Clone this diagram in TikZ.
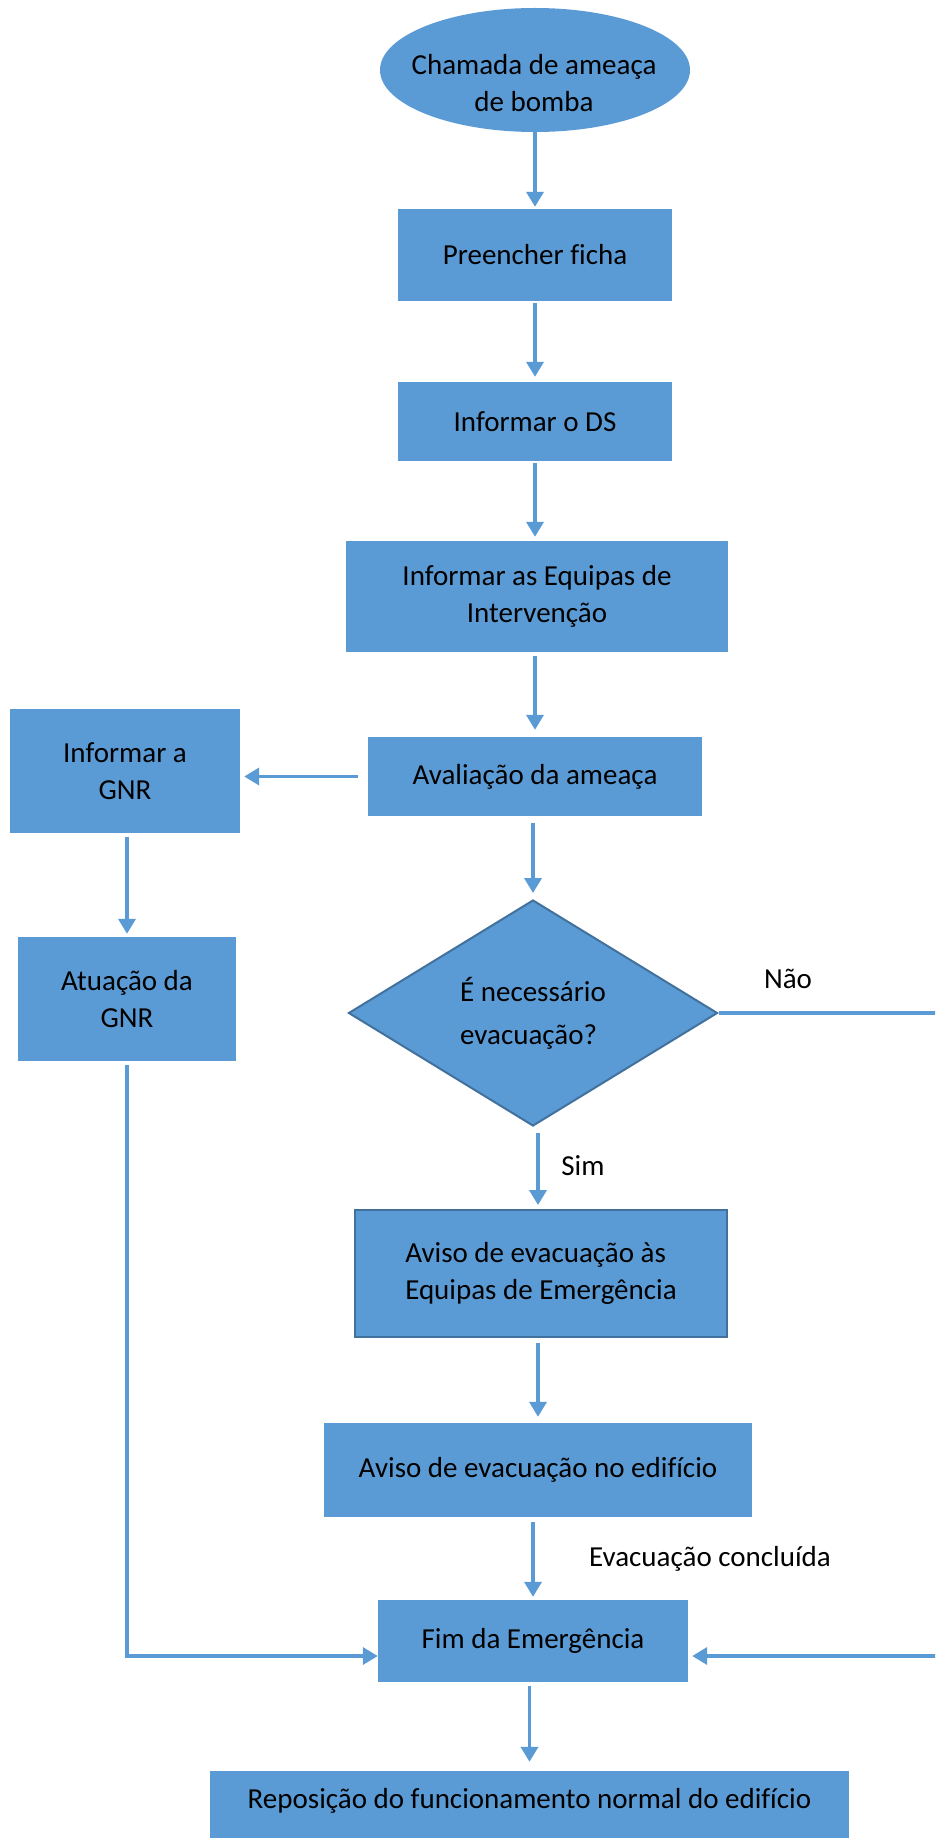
\documentclass[tikz,border=0pt]{standalone}
\usepackage{fontspec}
\setmainfont{Carlito}[Ligatures=CommonOff]
\usetikzlibrary{arrows.meta,shapes.geometric}
\definecolor{boxblue}{HTML}{5B9BD5}
\definecolor{edgeblue}{HTML}{41719C}

\tikzset{
  base/.style={fill=boxblue, draw=none, text=black, inner sep=0pt,
    font=\fontsize{29pt}{37pt}\selectfont, align=center},
  procbox/.style={base, rectangle},
  framedbox/.style={procbox, draw=edgeblue, line width=2pt},
  startshape/.style={base, ellipse},
  choice/.style={base, diamond, draw=edgeblue, line width=2pt},
  conn/.style={draw=boxblue, line width=3.5pt, -{Triangle[length=15pt,width=17pt]}},
  lbl/.style={font=\fontsize{29pt}{37pt}\selectfont, inner sep=0pt, text=black},
}

\begin{document}
\begin{tikzpicture}[x=1pt,y=-1pt]
  \useasboundingbox (0,0) rectangle (935,1838);
  \fill[white] (0,0) rectangle (935,1838);
  \clip (0,0) rectangle (935,1838);

  % flow nodes
  \node[startshape, minimum width=310pt, minimum height=124pt] (call) at (535,70) {};
  \node[lbl, align=center] (calltext) at (534,83) {Chamada de ameaça\\de bomba};
  \node[procbox, minimum width=274pt, minimum height=92pt] (fill) at (535,255) {Preencher ficha};
  \node[procbox, minimum width=274pt, minimum height=79pt] (ds) at (535,421.5) {Informar o DS};
  \node[procbox, minimum width=382pt, minimum height=111pt] (teams) at (537,596.5) {Informar as Equipas de\\Intervenção};
  \node[procbox, minimum width=334pt, minimum height=79pt] (assess) at (535,776.5) {Avaliação da ameaça};
  \node[procbox, minimum width=230pt, minimum height=124pt] (gnr) at (125,771) {Informar a\\GNR};
  \node[procbox, minimum width=218pt, minimum height=124pt] (gnract) at (127,999) {Atuação da\\GNR};
  \node[choice, minimum width=369pt, minimum height=226pt, align=left,
        font=\fontsize{29pt}{43pt}\selectfont] (decide) at (533,1013) {É necessário\\evacuação?};
  \node[framedbox, minimum width=372pt, minimum height=127pt, align=left] (warnteams) at (541,1273.5) {Aviso de evacuação às\\Equipas de Emergência};
  \node[procbox, minimum width=428pt, minimum height=94pt] (warnbuild) at (538,1470) {Aviso de evacuação no edifício};
  \node[procbox, minimum width=310pt, minimum height=82pt] (endem) at (533,1641) {Fim da Emergência};
  \node[procbox, minimum width=639pt, text height=37pt, text depth=45pt] (restore) at (529.5,1812) {Reposição do funcionamento normal do edifício};

  % branch labels
  \node[lbl] (yes) at (583,1166) {Sim};
  \node[lbl] (no) at (788,979) {Não};
  \node[lbl] (done) at (710,1559) {Evacuação concluída};

  % the "Não" branch runs off the right edge and back
  \coordinate (farright) at (960,0);

  % connectors
  \draw[conn, shorten >=2pt] (call.south) -- (call.south |- fill.north);
  \draw[conn, shorten <=2pt, shorten >=5pt] (fill.south) -- (fill.south |- ds.north);
  \draw[conn, shorten <=2pt, shorten >=4pt] (ds.south) -- (ds.south |- teams.north);
  \draw[conn, shorten <=4pt, shorten >=7pt] (ds.south |- teams.south) -- (ds.south |- assess.north);
  \draw[conn, shorten <=7pt, shorten >=6pt] (decide.north |- assess.south) -- (decide.north);
  \draw[conn, shorten <=10pt, shorten >=4pt] (assess.west) -- (assess.west -| gnr.east);
  \draw[conn, shorten <=4pt, shorten >=3pt] (gnract.north |- gnr.south) -- (gnract.north);
  \draw[conn, shorten <=4pt] (gnract.south) |- ([yshift=-15pt]endem.west);
  \draw[conn, shorten <=6pt, shorten >=4pt] (warnbuild.north |- decide.south) -- (warnbuild.north |- warnteams.north);
  \draw[conn, shorten >=4pt] (decide.east) -- (decide.east -| farright) |- ([yshift=-15pt]endem.east);
  \draw[conn, shorten <=5pt, shorten >=6pt] (warnbuild.north |- warnteams.south) -- (warnbuild.north);
  \draw[conn, shorten <=5pt, shorten >=3pt] (endem.north |- warnbuild.south) -- (endem.north);
  \draw[conn, shorten <=4pt, shorten >=9pt] (restore.north |- endem.south) -- (restore.north);
\end{tikzpicture}
\end{document}
